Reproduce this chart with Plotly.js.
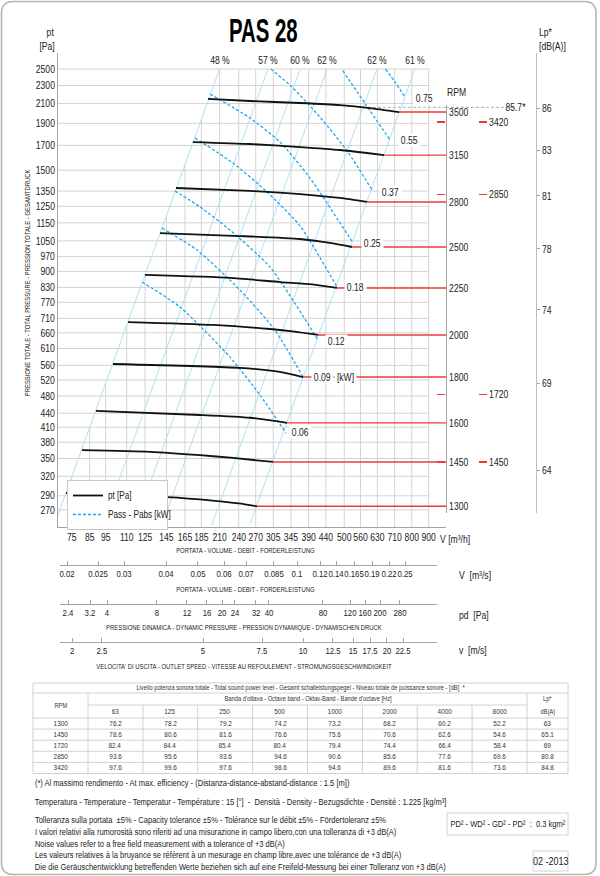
<!DOCTYPE html>
<html><head><meta charset="utf-8">
<script src="https://cdn.plot.ly/plotly-3.0.1.min.js"></script>
<style>html,body{margin:0;padding:0;background:#fff;}#chart{width:600px;height:876px;}</style>
</head><body><div id="chart"></div>
<script>
// ---------------- DATA ----------------
const flowTicks = [75,85,95,110,125,145,165,185,210,240,270,305,345,390,440,500,560,630,710,800,900];
const ptTicks = [270,290,320,350,380,410,440,480,520,560,610,660,710,770,830,900,970,1050,1150,1250,1350,1500,1700,1900,2100,2300,2500];

// secondary scales: labels and their position on the flow scale [m3/h] as read
const msLabels = ['0.02','0.025','0.03','0.04','0.05','0.06','0.07','0.085','0.1','0.12','0.14','0.165','0.19','0.22','0.25'];
const msPos = [72.6,90.1,108,144.6,180.6,216.5,252.4,306.6,359.9,422.4,472.1,535.2,606.8,682.8,763.2];
const pdLabels = ['2.4','3.2','4','8','12','16','20','24','32','40','80','120','160','200','280'];
const pdPos = [73.1,85.2,95.9,135.8,167.3,192.3,213.5,233.7,270.5,296.1,431.2,520.4,577.7,641.3,737];
const vLabels = ['2','2.5','5','7.5','10','12.5','15','17.5','20','22.5'];
const vPos = [75.2,92.6,187.1,282.1,375.3,462.3,531.4,598.2,673.2,752.6];

// efficiency lines (system parabolas): flow at pt 2500 and at pt 250
const effLabels = ['48 %','57 %','60 %','62 %','62 %','61 %'];
const effQTop = [210,294,368,444,628,818];
const effQBot = [66.4,93,116.4,140.4,198.6,258.7];
const effPtTop = 2500, effPtBot = 250;

// fan curves pt [Pa] vs V [m3/h]
const rpmLabels = ['3500','3150','2800','2500','2250','2000','1800','1600','1450','1300'];
const q3500 = [193.7,259.5,367.5,485.5,598.4,731.9], p3500 = [2149,2127,2106,2084,2053,2012];
const q3150 = [174.4,259.5,367.5,485.5,586,659.5],   p3150 = [1729,1712,1686,1661,1636,1619];
const q2800 = [155,259.5,367.5,485.5,586],           p2800 = [1371,1351,1330,1304,1278];
const q2500 = [138.7,242,367.5,452.8,527.7],         p2500 = [1092,1076,1060,1039,1018];
const q2250 = [124.9,225.7,319.7,400,475.4],         p2250 = [884,871,853,843,828];
const q2000 = [111,200.6,298.2,354,416.6],           p2000 = [697,687,673,664,653];
const q1800 = [100,242,319.7,375.3],                 p1800 = [564,553,542,528];
const q1600 = [88.8,183.2,259.5,335.7],              p1600 = [445,436,430,419];
const q1450 = [80.6,129.3,183.2,230.5,304.5],        p1450 = [365,362,356,351,344];
const q1300 = [72.1,96,145.6,200,240,272.4],         p1300 = [294,291,288,283,279,275];

// absorbed power curves [kW] (drawn on the pressure scale)
const kwLabels = ['0.75','0.55','0.37','0.25','0.18','0.12','0.09','0.06'];
const kwQ075 = [666,712,763],               kwP075 = [2500,2341,2171];
const kwQ055 = [495,582,688],               kwP055 = [2480,2084,1747];
const kwQ037 = [300,347.5,422,513,607],     kwP037 = [2500,2283,1962,1644,1357];
const kwQ025 = [196.4,259.5,319.7,393.9,531.4], kwP025 = [2204,1952,1729,1442,1039];
const kwQ018 = [176.9,230.5,288,367.5,475.4],   kwP018 = [1765,1555,1357,1132,832];
const kwQ012 = [153.9,183.2,225.7,298.2,416.6], kwP012 = [1351,1246,1109,920,637];
const kwQ009 = [140.6,179.4,242,308.8,375.3],   kwP009 = [1120,1003,819,669,528];
const kwQ006 = [122.4,159.4,225.7,278.2,333.3], kwP006 = [853,752,584,482,398];
// label anchor points of kW values
const kwLabelQ = [877,785,688,607,539,475,431,367.5];
const kwLabelP = [2160,1747,1344,1039,832,634,528,400];
const kwUnit = '[kW]', kwUnitQ = 503, kwUnitP = 528;

// sound pressure scale
const lpLabels = ['86','83','81','78','74','69','64'];
const lpPos = [2053,1661,1317,1008,741,512,329];
const markerRpm = ['3420','2850','1720','1450'];
const markerPt = [1911,1327,484,344];
const maxEffLabel = '85.7*', maxEffQ = 550, maxEffPt = 2060;

// sound power table
const octaveBands = ['63','125','250','500','1000','2000','4000','8000'];
const tableRpm = ['1300','1450','1720','2850','3420'];
const lw1300 = [76.2,78.2,79.2,74.2,73.2,68.2,60.2,52.2];
const lw1450 = [78.6,80.6,81.6,76.6,75.6,70.6,62.6,54.6];
const lw1720 = [82.4,84.4,85.4,80.4,79.4,74.4,66.4,58.4];
const lw2850 = [93.6,95.6,93.6,94.6,90.6,85.6,77.6,69.6];
const lw3420 = [97.6,99.6,97.6,98.6,94.6,89.6,81.6,73.6];
const lpTable = ['63','65.1','69','80.8','84.8'];

const footLines = [
 "(*) Al massimo rendimento - At max. efficiency - (Distanza-distance-abstand-distance : 1.5 [m])",
 "Temperatura - Temperature - Temperatur - Température : 15 [°]  -  Densità - Density - Bezugsdichte - Densité : 1.225 [kg/m³]",
 "Tolleranza sulla portata  ±5% - Capacity tolerance ±5% - Tolérance sur le débit ±5% - Fördertoleranz ±5%",
 "I valori relativi alla rumorosità sono riferiti ad una misurazione in campo libero,con una tolleranza di +3 dB(A)",
 "Noise values refer to a free field measurement with a tolerance of +3 dB(A)",
 "Les valeurs relatives à la bruyance se réfèrent à un mesurage en champ libre,avec une tolérance de +3 dB(A)",
 "Die die Geräuschentwicklung betreffenden Werte beziehen sich auf eine Freifeld-Messung bei einer Tolleranz von +3 dB(A)"
];

// ---------------- LAYOUT HELPERS ----------------
const FONT = "'Liberation Sans',Arial,sans-serif";
const W = 600, H = 876;
const px = x => x / W;
const py = y => 1 - y / H;
const xRange = [1.83365, 3.00656];
const yRange = [2.39399, 3.43301];
const x2Range = [1.83969, 2.97935];
const rRange = [2.42468, 3.43301];
const rpmRange = [2.42468, 3.31903];
const xMin = Math.pow(10, xRange[0]), xMax = Math.pow(10, xRange[1]);
const yMin = Math.pow(10, yRange[0]);
const TXT = '#222';

const traces = [];
// grid (clipped to the region right of the 48% line)
const gx = [], gy = [];
ptTicks.forEach(p => { gx.push(xMin, flowTicks[flowTicks.length - 1], null); gy.push(p, p, null); });
const lq0 = Math.log10(effQBot[0]), lq1 = Math.log10(effQTop[0]);
const lp0 = Math.log10(effPtBot), lp1 = Math.log10(effPtTop);
flowTicks.forEach(v => {
  const lv = Math.log10(v);
  let top = effPtTop;
  if (lv < lq1) top = Math.pow(10, lp0 + (lv - lq0) * (lp1 - lp0) / (lq1 - lq0));
  gx.push(v, v, null); gy.push(yMin, top, null);
});
traces.push({x: gx, y: gy, mode: 'lines', line: {color: '#d4d4d4', width: 1}, showlegend: false, hoverinfo: 'skip'});

// efficiency lines
const ex = [], ey = [];
effQTop.forEach((q, i) => { ex.push(effQBot[i], q, null); ey.push(effPtBot, effPtTop, null); });
traces.push({x: ex, y: ey, mode: 'lines', line: {color: '#a9dcf3', width: 0.9}, showlegend: false, hoverinfo: 'skip'});

// power curves
const kwQ = [kwQ075, kwQ055, kwQ037, kwQ025, kwQ018, kwQ012, kwQ009, kwQ006];
const kwP = [kwP075, kwP055, kwP037, kwP025, kwP018, kwP012, kwP009, kwP006];
const kx = [], ky = [];
kwQ.forEach((qs, i) => { kx.push(...qs, null); ky.push(...kwP[i], null); });
traces.push({x: kx, y: ky, mode: 'lines', name: 'Pass - Pabs [kW]', legendrank: 2,
  line: {color: '#1fa8ec', width: 1.3, dash: '3px,2px', shape: 'spline', smoothing: 0.6}, hoverinfo: 'skip'});

// fan curves
const curvesQ = [q3500,q3150,q2800,q2500,q2250,q2000,q1800,q1600,q1450,q1300];
const curvesP = [p3500,p3150,p2800,p2500,p2250,p2000,p1800,p1600,p1450,p1300];
const cx = [], cy = [];
curvesQ.forEach((qs, i) => { cx.push(...qs, null); cy.push(...curvesP[i], null); });
traces.push({x: cx, y: cy, mode: 'lines', name: 'pt [Pa]', legendrank: 1,
  line: {color: '#111', width: 1.8, shape: 'spline', smoothing: 0.6}, hoverinfo: 'skip'});

// red lines from curve ends to the RPM scale
const rx = [], ry = [];
const endPt = curvesP.map(a => a[a.length - 1]);
curvesQ.forEach((qs, i) => { rx.push(qs[qs.length - 1], xMax, null); ry.push(endPt[i], endPt[i], null); });
traces.push({x: rx, y: ry, mode: 'lines', line: {color: '#f03a3a', width: 1.4}, showlegend: false, hoverinfo: 'skip'});

// dummy traces to instantiate the extra axes
const dummy = (xa, ya, xv, yv) => ({x: [xv], y: [yv], xaxis: xa, yaxis: ya, mode: 'markers',
  marker: {opacity: 0, size: 1}, showlegend: false, hoverinfo: 'skip'});
traces.push(dummy('x2', 'y', msPos[0], 500));
traces.push(dummy('x3', 'y', pdPos[0], 500));
traces.push(dummy('x4', 'y', vPos[0], 500));
traces.push(dummy('x', 'y2', 200, lpPos[0]));
traces.push(dummy('x', 'y3', 200, endPt[0]));
traces.push(dummy('x', 'y4', 200, markerPt[0]));
traces.push(dummy('x', 'y5', 200, markerPt[0]));

const axFont = {family: FONT, size: 10.5, color: TXT};
const secFont = {family: FONT, size: 9.5, color: TXT};
const baseAx = {showgrid: false, zeroline: false, showline: true, linecolor: '#a3a3a3', linewidth: 1,
  tickfont: axFont, fixedrange: true, tickmode: 'array', tickangle: 0};

const layout = {
  width: W, height: H, margin: {l: 0, r: 0, t: 0, b: 0},
  paper_bgcolor: '#fff', plot_bgcolor: 'rgba(0,0,0,0)',
  font: {family: FONT, color: TXT}, hovermode: false,
  showlegend: true,
  legend: {x: px(67), y: py(480), xanchor: 'left', yanchor: 'top', bgcolor: '#fff',
    bordercolor: '#c8c8c8', borderwidth: 1, font: {family: FONT, size: 10, color: TXT},
    itemwidth: 30, tracegroupgap: 0, traceorder: 'normal'},
  xaxis: Object.assign({}, baseAx, {type: 'log', domain: [px(58), px(446)], range: xRange, anchor: 'y',
    tickvals: flowTicks, ticktext: flowTicks.map(String), ticks: ''}),
  yaxis: Object.assign({}, baseAx, {type: 'log', domain: [py(527), py(53)], range: yRange, anchor: 'x',
    tickvals: ptTicks, ticktext: ptTicks.map(String), ticks: ''}),
  xaxis2: Object.assign({}, baseAx, {type: 'log', domain: [px(60), px(437)], range: x2Range, anchor: 'free',
    position: py(565), side: 'bottom', tickvals: msPos, ticktext: msLabels, ticks: 'inside', ticklen: 4,
    tickcolor: '#a3a3a3', tickfont: secFont}),
  xaxis3: Object.assign({}, baseAx, {type: 'log', domain: [px(60), px(437)], range: x2Range, anchor: 'free',
    position: py(604), side: 'bottom', tickvals: pdPos, ticktext: pdLabels, ticks: 'inside', ticklen: 4,
    tickcolor: '#a3a3a3', tickfont: secFont}),
  xaxis4: Object.assign({}, baseAx, {type: 'log', domain: [px(60), px(437)], range: x2Range, anchor: 'free',
    position: py(642), side: 'bottom', tickvals: vPos, ticktext: vLabels, ticks: 'inside', ticklen: 4,
    tickcolor: '#a3a3a3', tickfont: secFont}),
  yaxis2: Object.assign({}, baseAx, {type: 'log', domain: [py(513), py(53)], range: rRange, anchor: 'free',
    position: px(536), side: 'right', tickvals: lpPos, ticktext: lpLabels, ticks: 'outside', ticklen: 3,
    tickcolor: '#a3a3a3', linecolor: '#bdbdbd'}),
  yaxis3: Object.assign({}, baseAx, {type: 'log', domain: [py(513), py(105)], range: rpmRange, anchor: 'free',
    position: px(446), side: 'right', tickvals: endPt, ticktext: rpmLabels, ticks: ''}),
  yaxis4: Object.assign({}, baseAx, {type: 'log', domain: [py(513), py(53)], range: rRange, anchor: 'free',
    position: px(478), side: 'right', showline: false, tickvals: markerPt, ticktext: markerRpm,
    ticks: 'outside', ticklen: 8, tickwidth: 1.5, tickcolor: '#f03a3a'}),
  yaxis5: Object.assign({}, baseAx, {type: 'log', domain: [py(513), py(53)], range: rRange, anchor: 'free',
    position: px(445), side: 'left', showline: false, showticklabels: false, tickvals: markerPt,
    ticks: 'outside', ticklen: 8, tickwidth: 1.5, tickcolor: '#f03a3a'}),
  shapes: [], annotations: []
};

const ann = (text, x, y, o) => layout.annotations.push(Object.assign({text: text, x: px(x), y: py(y),
  xref: 'paper', yref: 'paper', showarrow: false, xanchor: 'center', yanchor: 'middle',
  font: {family: FONT, size: 10.5, color: TXT}}, o || {}));
const hline = (x0, x1, y, c, w) => layout.shapes.push({type: 'line', xref: 'paper', yref: 'paper',
  x0: px(x0), x1: px(x1), y0: py(y), y1: py(y), line: {color: c || '#c6c6c6', width: w || 0.8}});
const vline = (x, y0, y1, c, w) => layout.shapes.push({type: 'line', xref: 'paper', yref: 'paper',
  x0: px(x), x1: px(x), y0: py(y0), y1: py(y1), line: {color: c || '#c6c6c6', width: w || 0.8}});

// page frame (rounded)
(function () {
  const l = 1.5, t = 1.5, r = 596, b = 874.5, rad = 12;
  const P = (x, y) => px(x).toFixed(5) + ',' + py(y).toFixed(5);
  const path = 'M' + P(l + rad, t) + ' L' + P(r - rad, t) + ' Q' + P(r, t) + ' ' + P(r, t + rad) +
    ' L' + P(r, b - rad) + ' Q' + P(r, b) + ' ' + P(r - rad, b) + ' L' + P(l + rad, b) +
    ' Q' + P(l, b) + ' ' + P(l, b - rad) + ' L' + P(l, t + rad) + ' Q' + P(l, t) + ' ' + P(l + rad, t) + ' Z';
  layout.shapes.push({type: 'path', xref: 'paper', yref: 'paper', path: path, line: {color: '#b5b5b5', width: 1.6}});
})();

// max-efficiency reference (dashed grey)
layout.shapes.push({type: 'line', xref: 'x', yref: 'y', x0: maxEffQ, x1: xMax, y0: maxEffPt, y1: maxEffPt,
  line: {color: '#b0b0b0', width: 1, dash: '3px,2px'}, layer: 'below'});
layout.shapes.push({type: 'line', xref: 'paper', yref: 'y', x0: px(446), x1: px(513), y0: maxEffPt, y1: maxEffPt,
  line: {color: '#b0b0b0', width: 1, dash: '3px,2px'}});
layout.annotations.push({text: maxEffLabel, xref: 'paper', yref: 'y', x: px(528), y: Math.log10(maxEffPt),
  xanchor: 'right', yanchor: 'middle', showarrow: false, font: {family: FONT, size: 10.5, color: TXT}});

// title and axis labels
ann('<b>PAS 28</b>', 263, 30, {font: {family: FONT, size: 34, color: '#000'}});
ann('pt', 56, 32, {xanchor: 'right'});
ann('[Pa]', 57, 46, {xanchor: 'right'});
ann('Lp*', 537, 32, {xanchor: 'left'});
ann('[dB(A)]', 537, 46, {xanchor: 'left'});
ann('RPM', 456, 92);
ann('PRESSIONE TOTALE - TOTAL PRESSURE - PRESSION TOTALE - GESAMTDRUCK', 27, 283, {textangle: -90, font: {family: FONT, size: 7.2, color: TXT}});
ann('V [m³/h]', 438, 539, {xanchor: 'left'});
ann('V  [m³/s]', 457, 575, {xanchor: 'left'});
ann('pd  [Pa]', 457, 615, {xanchor: 'left'});
ann('v  [m/s]', 457, 650, {xanchor: 'left'});
const subF = {family: FONT, size: 7.2, color: TXT};
ann('PORTATA - VOLUME - DEBIT - FORDERLEISTUNG', 246, 550, {font: subF});
ann('PORTATA - VOLUME - DEBIT - FORDERLEISTUNG', 246, 589, {font: subF});
ann('PRESSIONE DINAMICA - DYNAMIC PRESSURE - PRESSION DYNAMIQUE - DYNAMISCHEN DRUCK', 243.5, 627, {font: subF});
ann("VELOCITA' DI USCITA - OUTLET SPEED - VITESSE AU REFOULEMENT - STROMUNGSGESCHWINDIGKEIT", 243.5, 666, {font: subF});

// efficiency labels
effLabels.forEach((t, i) => layout.annotations.push({text: t, x: Math.log10(effQTop[i]), y: Math.log10(effPtTop),
  xref: 'x', yref: 'y', yanchor: 'bottom', yshift: 1, showarrow: false, font: {family: FONT, size: 10.5, color: TXT}}));
// kW labels
kwLabels.forEach((t, i) => layout.annotations.push({text: t, x: Math.log10(kwLabelQ[i]), y: Math.log10(kwLabelP[i]),
  xref: 'x', yref: 'y', showarrow: false, bgcolor: '#fff', borderpad: 0, font: {family: FONT, size: 10.5, color: TXT}}));
layout.annotations.push({text: kwUnit, x: Math.log10(kwUnitQ), y: Math.log10(kwUnitP), xref: 'x', yref: 'y',
  showarrow: false, bgcolor: '#fff', borderpad: 0, font: {family: FONT, size: 10.5, color: TXT}});

// ---------------- TABLE ----------------
const colEdges = [33, 88, 142.9, 197.7, 252.6, 307.5, 362.4, 417.2, 472.1, 527, 568];
const T0 = 683, T1 = 693, T2 = 705, T3 = 718, RH = 11.1;
const TB = T3 + RH * tableRpm.length;
[T0, T1, T3].forEach(y => hline(colEdges[0], colEdges[10], y));
hline(colEdges[1], colEdges[9], T2);
tableRpm.forEach((r, i) => hline(colEdges[0], colEdges[10], T3 + RH * (i + 1)));
vline(colEdges[0], T0, TB); vline(colEdges[10], T0, TB);
vline(colEdges[1], T1, TB); vline(colEdges[9], T1, TB);
for (let k = 2; k <= 8; k++) vline(colEdges[k], T2, TB);
const tf = {family: FONT, size: 7, color: '#333'};
const nf = {family: FONT, size: 7.8, color: '#333'};
ann('Livello potenza sonora totale - Total sound power level - Gesamt schalleistungspegel - Niveau totale de puissance sonore - [dB]  *', (colEdges[0] + colEdges[10]) / 2, (T0 + T1) / 2, {font: tf});
ann("Banda d'ottava - Octave band - Oktav-Band - Bande d'octave [Hz]", (colEdges[1] + colEdges[9]) / 2, (T1 + T2) / 2, {font: tf});
ann('RPM', (colEdges[0] + colEdges[1]) / 2, (T1 + T3) / 2, {font: tf});
ann('Lp*', (colEdges[9] + colEdges[10]) / 2, (T1 + T2) / 2, {font: tf});
ann('dB(A)', (colEdges[9] + colEdges[10]) / 2, (T2 + T3) / 2, {font: tf});
octaveBands.forEach((b, k) => ann(b, (colEdges[k + 1] + colEdges[k + 2]) / 2, (T2 + T3) / 2, {font: nf}));
const lwRows = [lw1300, lw1450, lw1720, lw2850, lw3420];
tableRpm.forEach((r, i) => {
  const yc = T3 + RH * (i + 0.5);
  ann(r, (colEdges[0] + colEdges[1]) / 2, yc, {font: nf});
  lwRows[i].forEach((v, k) => ann(v.toFixed(1), (colEdges[k + 1] + colEdges[k + 2]) / 2, yc, {font: nf}));
  ann(lpTable[i], (colEdges[9] + colEdges[10]) / 2, yc, {font: nf});
});

// ---------------- FOOTER ----------------
const footY = [783, 802, 820, 832, 843.5, 855, 866.5];
const ff = {family: FONT, size: 9.2, color: '#222'};
footLines.forEach((t, i) => ann(t, 33, footY[i], {xanchor: 'left', font: ff}));
hline(447, 568, 813, '#c6c6c6', 0.8); hline(447, 568, 835, '#c6c6c6', 0.8);
vline(447, 813, 835, '#c6c6c6', 0.8); vline(568, 813, 835, '#c6c6c6', 0.8);
ann('PD² - WD² - GD² - PD²  :  0.3 kgm²', 507.5, 824, {font: ff});
hline(533, 568, 851, '#c6c6c6', 0.8); hline(533, 568, 871, '#c6c6c6', 0.8);
vline(533, 851, 871, '#c6c6c6', 0.8); vline(568, 851, 871, '#c6c6c6', 0.8);
ann('02 -2013', 550.5, 861, {font: {family: FONT, size: 11, color: '#222'}});

// narrow the type (Arial Narrow look): horizontal scale around each text's anchor
function squeeze(t, s, anchor) {
  let bb; try { bb = t.getBBox(); } catch (e) { return; }
  const ax = anchor === 'middle' ? bb.x + bb.width / 2 : (anchor === 'end' ? bb.x + bb.width : bb.x);
  const T = t.getAttribute('transform') || '';
  t.setAttribute('transform', T + ' translate(' + ax + ',0) scale(' + s + ',1) translate(' + (-ax) + ',0)');
}
function condense(gd) {
  const anns = gd.layout.annotations || [];
  const done = new Set();
  gd.querySelectorAll('g.annotation').forEach(g => {
    const a = anns[+g.getAttribute('data-index')] || {};
    const t = g.querySelector('text');
    if (!t || !t.textContent) return;
    done.add(t);
    const s = (t.textContent.trim() === 'PAS 28') ? 0.6 : 0.82;
    squeeze(t, s, a.xanchor === 'left' ? 'start' : (a.xanchor === 'right' ? 'end' : 'middle'));
  });
  gd.querySelectorAll('svg text').forEach(t => {
    if (done.has(t) || !t.textContent) return;
    squeeze(t, 0.82, t.getAttribute('text-anchor') || 'start');
  });
  const lg = gd.querySelector('.legend rect.bg');
  if (lg) lg.setAttribute('width', 100);
}
Plotly.newPlot('chart', traces, layout, {staticPlot: true, displayModeBar: false}).then(condense);
</script></body></html>
